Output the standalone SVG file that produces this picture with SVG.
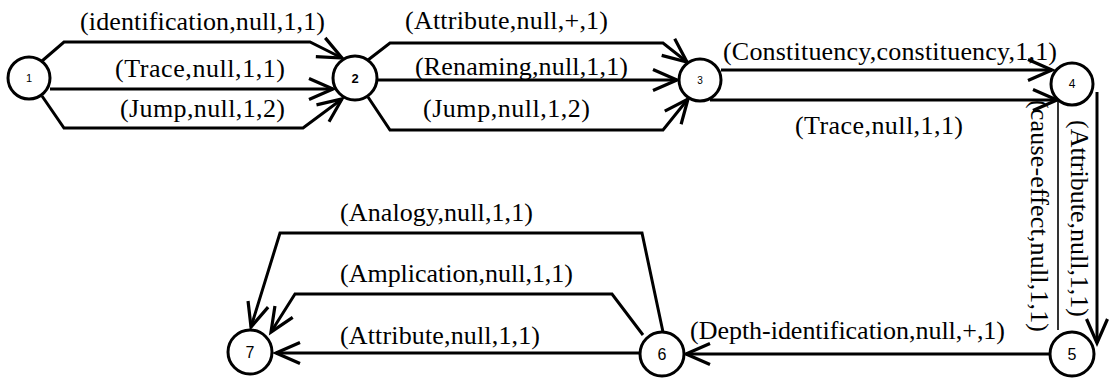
<svg xmlns="http://www.w3.org/2000/svg" width="1113" height="380" viewBox="0 0 1113 380">
  <style>
    .node { fill: #fff; stroke: #000; stroke-width: 3; }
    .edge { fill: none; stroke: #000; stroke-width: 3; stroke-linejoin: miter; }
    .thin { fill: none; stroke: #000; stroke-width: 1.6; }
    .lbl { font-family: "Liberation Serif", "Times New Roman", serif; font-size: 26px; fill: #000; }
    .num { font-family: "Liberation Sans", Arial, sans-serif; fill: #000; text-anchor: middle; }
  </style>
  <defs>
    <marker id="arrow" markerUnits="userSpaceOnUse" markerWidth="30" markerHeight="30" refX="25" refY="12" orient="auto" overflow="visible">
      <path d="M1,1.5 L25,12 L1,22.5" fill="none" stroke="#000" stroke-width="3.2" stroke-linejoin="miter"/>
    </marker>
  </defs>

  <!-- connectors -->
  <g id="connectors">
    <!-- 1 -> 2 -->
    <path class="edge" d="M42,61 L64,42 L310,42 L342,58" marker-end="url(#arrow)"/>
    <path class="edge" d="M50,89 L333,89" marker-end="url(#arrow)"/>
    <path class="edge" d="M42,96 L64,128 L303,128 L342,99" marker-end="url(#arrow)"/>
    <!-- 2 -> 3 -->
    <path class="edge" d="M368,60 L390,43 L663,43 L687,62" marker-end="url(#arrow)"/>
    <path class="edge" d="M377,80 L677,80" marker-end="url(#arrow)"/>
    <path class="edge" d="M368,97 L390,130 L663,130 L688,99" marker-end="url(#arrow)"/>
    <!-- 3 -> 4 -->
    <path class="edge" d="M721,70 L1052,70" marker-end="url(#arrow)"/>
    <path class="edge" d="M710,100 L1057,100" marker-end="url(#arrow)"/>
    <!-- 4 -> 5 -->
    <path class="thin" d="M1058,101 L1058,330"/>
    <path class="edge" d="M1097,92 L1097,343" marker-end="url(#arrow)"/>
    <!-- 5 -> 6 -->
    <path class="edge" d="M1050,354 L686,354" marker-end="url(#arrow)"/>
    <!-- 6 -> 7 -->
    <path class="edge" d="M663,332 L642,233 L280,233 L251,327" marker-end="url(#arrow)"/>
    <path class="edge" d="M643,335 L612,294 L295,294 L271,332" marker-end="url(#arrow)"/>
    <path class="edge" d="M640,353 L276,353" marker-end="url(#arrow)"/>
  </g>

  <!-- edge labels -->
  <g id="labels">
    <text class="lbl" x="80" y="30" textLength="245" lengthAdjust="spacing">(identification,null,1,1)</text>
    <text class="lbl" x="115" y="77" textLength="170" lengthAdjust="spacing">(Trace,null,1,1)</text>
    <text class="lbl" x="120" y="117" textLength="165" lengthAdjust="spacing">(Jump,null,1,2)</text>
    <text class="lbl" x="405" y="29" textLength="203" lengthAdjust="spacing">(Attribute,null,+,1)</text>
    <text class="lbl" x="415" y="75" textLength="213" lengthAdjust="spacing">(Renaming,null,1,1)</text>
    <text class="lbl" x="423" y="117" textLength="167" lengthAdjust="spacing">(Jump,null,1,2)</text>
    <text class="lbl" x="723" y="60" textLength="334" lengthAdjust="spacing">(Constituency,constituency,1,1)</text>
    <text class="lbl" x="795" y="134" textLength="168" lengthAdjust="spacing">(Trace,null,1,1)</text>
    <text class="lbl" transform="translate(1031,100) rotate(90)" textLength="232" lengthAdjust="spacing">(cause-effect,null,1,1)</text>
    <text class="lbl" transform="translate(1071,120) rotate(90)" textLength="197" lengthAdjust="spacing">(Attribute,null,1,1)</text>
    <text class="lbl" x="690" y="339" textLength="315" lengthAdjust="spacing">(Depth-identification,null,+,1)</text>
    <text class="lbl" x="340" y="221" textLength="193" lengthAdjust="spacing">(Analogy,null,1,1)</text>
    <text class="lbl" x="340" y="282" textLength="233" lengthAdjust="spacing">(Amplication,null,1,1)</text>
    <text class="lbl" x="340" y="344" textLength="200" lengthAdjust="spacing">(Attribute,null,1,1)</text>
  </g>

  <!-- nodes -->
  <g id="node1"><circle class="node" cx="29" cy="78" r="21"/><text class="num" x="29" y="82" font-size="11">1</text></g>
  <g id="node2"><circle class="node" cx="355" cy="78" r="22"/><text class="num" x="355" y="83" font-size="13" font-weight="bold">2</text></g>
  <g id="node3"><circle class="node" cx="700" cy="80" r="21"/><text class="num" x="700" y="84" font-size="10">3</text></g>
  <g id="node4"><circle class="node" cx="1072" cy="84" r="21"/><text class="num" x="1072" y="88" font-size="12">4</text></g>
  <g id="node5"><circle class="node" cx="1072" cy="354" r="22"/><text class="num" x="1072" y="360" font-size="16">5</text></g>
  <g id="node6"><circle class="node" cx="662" cy="354" r="22"/><text class="num" x="662" y="360" font-size="16">6</text></g>
  <g id="node7"><circle class="node" cx="250" cy="352" r="22"/><text class="num" x="250" y="358" font-size="16">7</text></g>
</svg>
